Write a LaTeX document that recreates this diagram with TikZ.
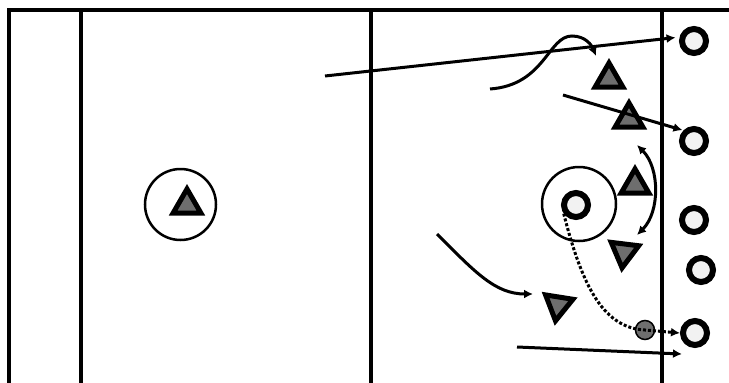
\documentclass[tikz,border=0pt]{standalone}
\usetikzlibrary{arrows.meta, shapes.geometric}

\definecolor{markgray}{HTML}{6E6E6E}
\definecolor{offwhite}{HTML}{F2F2F2}

\begin{document}
\begin{tikzpicture}[
    x=1pt, y=-1pt, % one unit = one pixel, y runs downwards
    >={Latex[length=9pt,width=9pt]},
    % Style definitions
    field line/.style={line width=4pt},
    attacker/.style={circle, draw, line width=6pt, fill=offwhite, minimum size=24pt, inner sep=0pt},
    defender/.style={regular polygon, regular polygon sides=3, draw, line width=5pt, fill=markgray, minimum size=32pt, inner sep=0pt},
    ring/.style={circle, draw, line width=2.5pt, inner sep=0pt, fill=none},
    ball/.style={circle, draw, line width=1.5pt, fill=markgray, minimum size=19pt, inner sep=0pt},
    % Movement styles
    run/.style={line width=3pt, ->},
    pass/.style={line width=3pt, dash pattern=on 3pt off 2pt, ->}
]
\useasboundingbox (0,0) rectangle (729,383);

% ==========================================
% 1. FIELD LINES
% ==========================================

\draw[field line, line join=miter] (9,383) -- (9,10) -- (729,10);
\draw[field line] (81,10) -- (81,383);
\draw[field line] (371,10) -- (371,383);
\draw[line width=3.5pt] (662,10) -- (662,383);

% ==========================================
% 2. PLAYERS
% ==========================================

% Marked defender (left)
\node[ring, minimum size=71pt] (r0) at (180.5,204.5) {};
\node[defender] (t0) at (187,205) {};

% Defenders near the line
\node[defender] (t1) at (609,79) {};
\node[defender] (t2) at (629,119) {};
\node[defender] (t3) at (635,185) {};
\node[defender, rotate=173] (t4) at (624,252) {};
\node[defender, rotate=171] (t5) at (558,305) {};

% Attackers beyond the line
\node[attacker] (o1) at (694,41) {};
\node[attacker] (o2) at (694,141) {};
\node[attacker] (o3) at (694,220) {};
\node[attacker] (o4) at (701,270) {};
\node[attacker] (o5) at (695,333) {};

% Ball carrier with its ring
\node[ring, minimum size=74pt] (r1) at (579,204) {};
\node[attacker] (bc) at (576,205) {};

% Ball
\node[ball] (ball) at (645,330) {};

% ==========================================
% 3. RUNS AND PASSES
% ==========================================

% Free ends of the runs
\coordinate (a1) at (325,76);
\coordinate (w1) at (490,89);
\coordinate (w2) at (596,56);
\coordinate (a3) at (563,95);
\coordinate (d1) at (637,145);
\coordinate (d2) at (637,235);
\coordinate (c1) at (437,234);
\coordinate (c2) at (533,294);
\coordinate (b1) at (517,347);
\coordinate (b2) at (682,354);

% Long run to the top attacker
\draw[run, shorten >=4pt] (a1) -- (o1.165);

% Wavy run
\draw[run] (w1) .. controls (545,85) and (548,36) .. (572,36)
    .. controls (586,36) and (592,46) .. (w2);

% Run through the second defender
\draw[run, shorten >=1pt] (a3) -- (o2.135);

% Double arrow
\draw[run, <->] (d1) .. controls (660,168) and (660,212) .. (d2);

% Curved run to the lower defender
\draw[run] (c1) .. controls (475,272) and (495,294) .. (c2);

% Bottom run
\draw[run] (b1) -- (b2);

% Pass from the ball carrier via the ball
\draw[pass] (bc.215) .. controls (583,290) and (605,328) .. (ball.center) -- (o5.180);

\end{tikzpicture}
\end{document}
